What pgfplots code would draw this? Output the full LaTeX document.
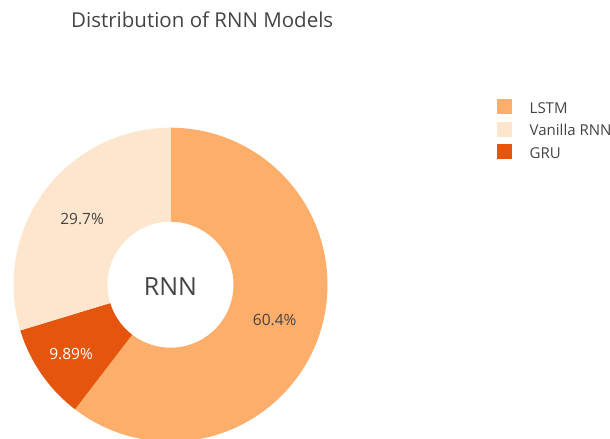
\documentclass[border=0pt]{standalone}
\usepackage{pgfplots}
\pgfplotsset{compat=1.18}
\usepackage{pgfplotstable}
\usetikzlibrary{calc}
\usepackage{fontspec}
\setmainfont{Open Sans}

\definecolor{lstm}{HTML}{FDAE6B}
\definecolor{vanilla}{HTML}{FEE6CE}
\definecolor{gru}{HTML}{E6550D}
\definecolor{txt}{HTML}{444444}

% share in percent, drawn clockwise from 12 o'clock
\pgfplotstableread[col sep=comma]{
model,share,color,labelr,labelcolor
LSTM,60.4,lstm,110,txt
GRU,9.89,gru,121,white
Vanilla RNN,29.7,vanilla,110,txt
}\rnndata

\def\cx{170.5}\def\cy{154.3}
\def\Rout{157}\def\Rin{63}

% wedge angles, worked out once before the axis
\pgfplotstablegetrowsof{\rnndata}
\pgfmathtruncatemacro\lastrow{\pgfplotsretval-1}
\gdef\total{0}
\foreach \i in {0,...,\lastrow}{%
  \pgfplotstablegetelem{\i}{share}\of\rnndata
  \pgfmathsetmacro\tmp{\total+\pgfplotsretval}\xdef\total{\tmp}%
}
\gdef\startang{90}
\foreach \i in {0,...,\lastrow}{%
  \pgfplotstablegetelem{\i}{share}\of\rnndata
  \expandafter\xdef\csname wshare\i\endcsname{\pgfplotsretval}%
  \pgfmathsetmacro\endang{\startang-360*(\pgfplotsretval/\total)}%
  \pgfmathsetmacro\midang{(\startang+\endang)/2}%
  \expandafter\xdef\csname wstart\i\endcsname{\startang}%
  \expandafter\xdef\csname wend\i\endcsname{\endang}%
  \expandafter\xdef\csname wmid\i\endcsname{\midang}%
  \pgfplotstablegetelem{\i}{color}\of\rnndata
  \expandafter\xdef\csname wcol\i\endcsname{\pgfplotsretval}%
  \pgfplotstablegetelem{\i}{labelr}\of\rnndata
  \expandafter\xdef\csname wlr\i\endcsname{\pgfplotsretval}%
  \pgfplotstablegetelem{\i}{labelcolor}\of\rnndata
  \expandafter\xdef\csname wlcol\i\endcsname{\pgfplotsretval}%
  \xdef\startang{\endang}%
}

\begin{document}
\begin{tikzpicture}
\path[use as bounding box] (0,0) rectangle (610bp,439bp);
\clip (0,0) rectangle (610bp,439bp);
\begin{axis}[
    at={(0,0)}, anchor=south west,
    scale only axis,
    width=610bp, height=439bp,
    xmin=0, xmax=610, ymin=0, ymax=439,
    hide axis,
    title={Distribution of RNN Models},
    every axis title shift=0pt,
    title style={at={(0.1164,0.9378)}, anchor=base west, inner sep=0pt,
        font=\fontsize{20.5bp}{24bp}\selectfont, text=txt},
    legend image code/.code={\fill[#1] (0bp,-7bp) rectangle (15bp,8bp);},
    legend style={at={(0.8143,0.7738)}, anchor=north west, draw=none, fill=none,
        inner sep=0pt, outer sep=0pt, row sep=7.5bp, column sep=18bp,
        nodes={inner sep=0pt, text height=12bp, text depth=0bp},
        font=\fontsize{15bp}{18bp}\selectfont, text=txt},
    legend cell align=left,
]
\addlegendimage{fill=lstm, draw=none}
\addlegendimage{fill=vanilla, draw=none}
\addlegendimage{fill=gru, draw=none}
\legend{LSTM, Vanilla RNN, GRU}

\pgfplotsinvokeforeach{0,1,2}{%
  \fill[\csname wcol#1\endcsname]
      ($(axis cs:\cx,\cy)+(\csname wstart#1\endcsname:\Rout bp)$)
      arc[start angle=\csname wstart#1\endcsname, end angle=\csname wend#1\endcsname, radius=\Rout bp]
      -- ($(axis cs:\cx,\cy)+(\csname wend#1\endcsname:\Rin bp)$)
      arc[start angle=\csname wend#1\endcsname, end angle=\csname wstart#1\endcsname, radius=\Rin bp]
      -- cycle;
  \node[text=\csname wlcol#1\endcsname, inner sep=0pt, font=\fontsize{15.5bp}{18bp}\selectfont]
      at ($(axis cs:\cx,\cy)+(\csname wmid#1\endcsname:\csname wlr#1\endcsname bp)$)
      {\csname wshare#1\endcsname\%};
}
\node[text=txt, inner sep=0pt, font=\fontsize{25bp}{30bp}\selectfont]
    at (axis cs:170.5,152.3) {RNN};
\end{axis}
\end{tikzpicture}
\end{document}
